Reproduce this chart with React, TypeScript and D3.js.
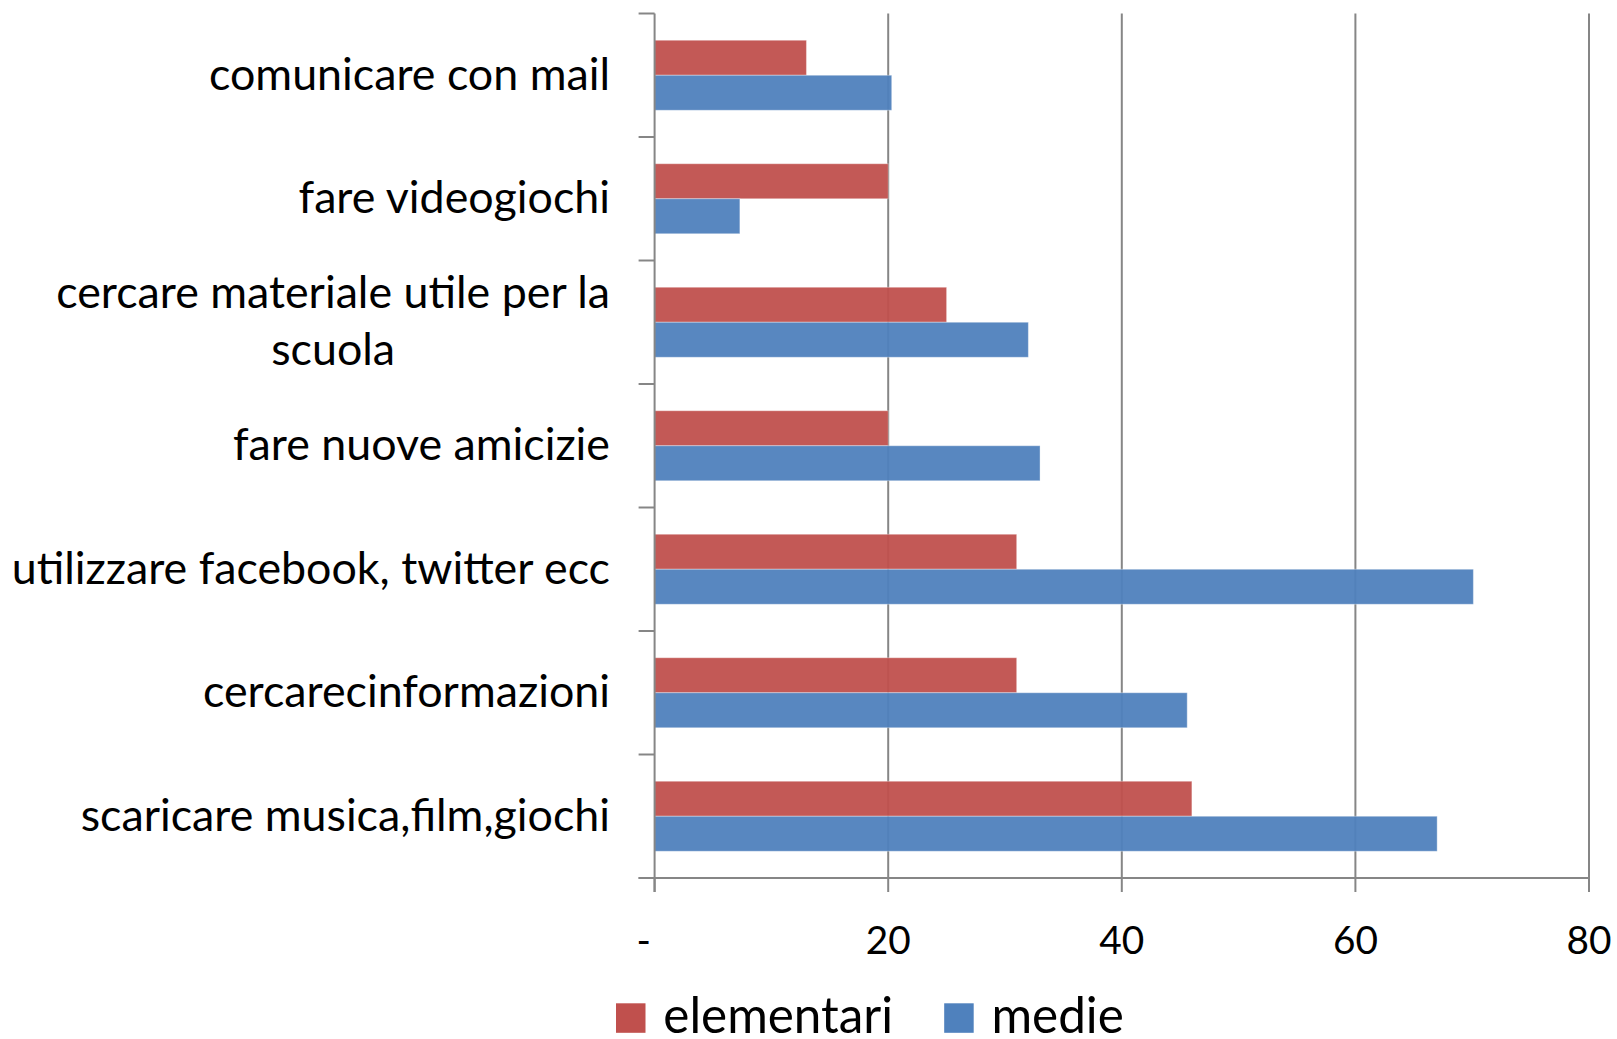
import React, { useEffect, useRef } from "react";
import * as d3 from "d3";

const categories = [
  "comunicare con mail",
  "fare videogiochi",
  "cercare materiale utile per la scuola",
  "fare nuove amicizie",
  "utilizzare facebook, twitter ecc",
  "cercarecinformazioni",
  "scaricare musica,film,giochi",
];
const seriesNames = ["elementari", "medie"];
const elementari = [13, 20, 25, 20, 31, 31, 46];
const medie = [20.3, 7.3, 32, 33, 70.1, 45.6, 67];
const xTicks = [0, 20, 40, 60, 80];
const tickLabels = ["-", "20", "40", "60", "80"];
const colors = ["#C0504D", "#4F81BD"];

const W = 1617;
const H = 1039;
const FONT = "Lato, 'Open Sans', sans-serif";
const GRID = "#868686";

export default function App() {
  const ref = useRef<SVGSVGElement>(null);

  useEffect(() => {
    const svg = d3.select(ref.current as SVGSVGElement);
    svg.selectAll("*").remove();

    const measureAt = (s: string, size: number) => {
      const t = svg.append("text").attr("font-family", FONT).attr("font-size", size).text(s);
      const w = (t.node() as SVGTextElement).getComputedTextLength();
      t.remove();
      return w;
    };
    const fs = (44 * 401) / measureAt("comunicare con mail", 44);
    const tickFs = (fs * 45) / measureAt("80", fs);
    const legendFs = (fs * 230) / measureAt("elementari", fs);
    const measure = (s: string) => measureAt(s, fs);

    const plotTop = 13.5;
    const plotBottom = 878;
    const x = d3.scaleLinear().domain([0, 80]).range([654.6, 1589]);
    const y = d3.scaleBand<string>().domain(categories).range([plotTop, plotBottom]).padding(0);
    const inner = d3
      .scaleBand<string>()
      .domain(seriesNames)
      .range([0, y.bandwidth()])
      .paddingInner(0)
      .paddingOuter(0.764);

    const values = [elementari, medie];

    // gridlines
    svg
      .append("g")
      .selectAll("line")
      .data(xTicks.filter((d) => d !== 0))
      .enter()
      .append("line")
      .attr("x1", (d) => x(d))
      .attr("x2", (d) => x(d))
      .attr("y1", plotTop)
      .attr("y2", plotBottom)
      .attr("stroke", GRID)
      .attr("stroke-width", 2);

    // bars
    seriesNames.forEach((s, si) => {
      svg
        .append("g")
        .selectAll("rect")
        .data(categories)
        .enter()
        .append("rect")
        .attr("x", x(0))
        .attr("y", (c) => (y(c) as number) + (inner(s) as number))
        .attr("width", (c, i) => x(values[si][i]) - x(0))
        .attr("height", inner.bandwidth())
        .attr("fill", colors[si])
        .attr("fill-opacity", 0.95)
        .attr("stroke", "rgba(255,255,255,0.35)")
        .attr("stroke-width", 1);
    });

    // axes
    const ax = svg.append("g").attr("stroke", GRID).attr("stroke-width", 2);
    ax.append("line").attr("x1", x(0)).attr("x2", x(0)).attr("y1", plotTop).attr("y2", plotBottom + 14);
    ax.append("line").attr("x1", x(0) - 16).attr("x2", x(80)).attr("y1", plotBottom).attr("y2", plotBottom);
    ax.selectAll("line.xt")
      .data(xTicks)
      .enter()
      .append("line")
      .attr("x1", (d) => x(d))
      .attr("x2", (d) => x(d))
      .attr("y1", plotBottom)
      .attr("y2", plotBottom + 14);
    const bounds = categories.map((c) => y(c) as number).concat([plotBottom]);
    ax.selectAll("line.yt")
      .data(bounds)
      .enter()
      .append("line")
      .attr("x1", x(0) - 16)
      .attr("x2", x(0))
      .attr("y1", (d) => d)
      .attr("y2", (d) => d);

    // tick labels
    svg
      .append("g")
      .selectAll("text")
      .data(xTicks)
      .enter()
      .append("text")
      .attr("font-family", FONT)
      .attr("font-size", tickFs)
      .attr("fill", "#000")
      .attr("text-anchor", "middle")
      .attr("x", (d) => (d === 0 ? x(d) - 11 : x(d)))
      .attr("y", plotBottom + 76)
      .text((d, i) => tickLabels[i]);

    // category labels
    const labelRight = 610;
    const maxW = 600;
    const lh = 57;
    categories.forEach((c) => {
      const words = c.split(" ");
      const lines: string[] = [];
      let cur = "";
      words.forEach((w) => {
        const test = cur ? cur + " " + w : w;
        if (measure(test) > maxW && cur) {
          lines.push(cur);
          cur = w;
        } else cur = test;
      });
      lines.push(cur);
      const widths = lines.map(measure);
      const bw = Math.max(...widths);
      const cx = labelRight - bw / 2;
      const cy = (y(c) as number) + y.bandwidth() / 2;
      lines.forEach((ln, i) => {
        svg
          .append("text")
          .attr("font-family", FONT)
          .attr("font-size", fs)
          .attr("fill", "#000")
          .attr("text-anchor", "middle")
          .attr("x", cx)
          .attr("y", cy + 14.5 + (i - (lines.length - 1) / 2) * lh)
          .text(ln);
      });
    });

    // legend
    let lx = 616;
    const ly = 1003.3;
    const sq = 29.5;
    seriesNames.forEach((s, i) => {
      svg.append("rect").attr("x", lx).attr("y", ly).attr("width", sq).attr("height", sq).attr("fill", colors[i]);
      svg
        .append("text")
        .attr("font-family", FONT)
        .attr("font-size", legendFs)
        .attr("fill", "#000")
        .attr("x", lx + 47.3)
        .attr("y", ly + sq)
        .text(s);
      lx += 47.3 + measureAt(s, legendFs) + 51;
    });
  }, []);

  return (
    <svg
      ref={ref}
      width={W}
      height={H}
      style={{ position: "absolute", left: 0, top: 0, display: "block", background: "#fff" }}
    />
  );
}
